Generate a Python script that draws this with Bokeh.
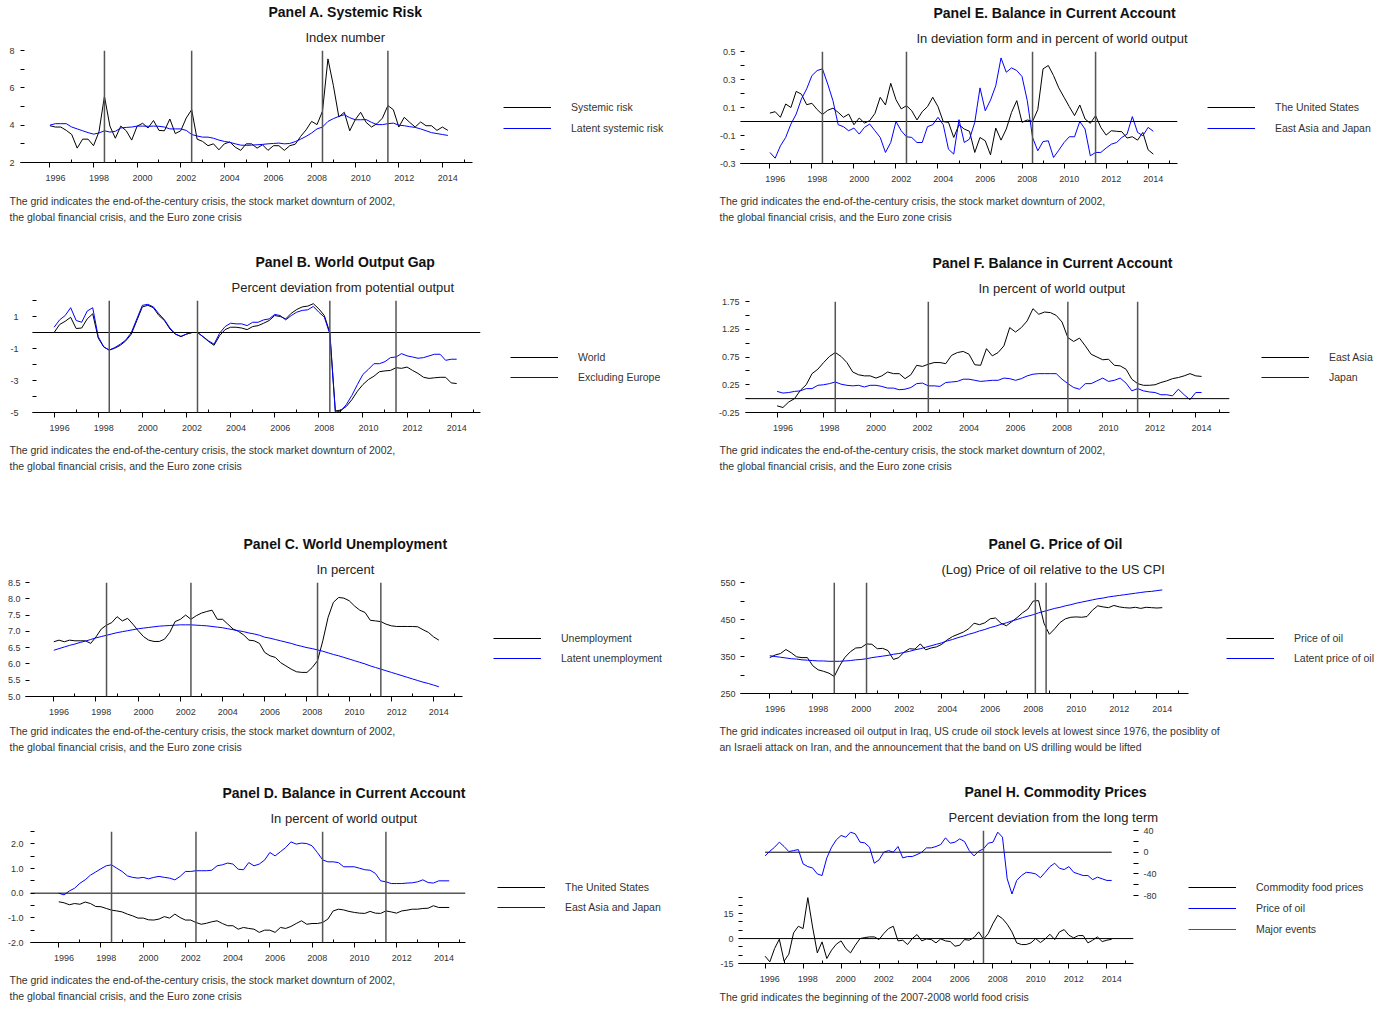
from bokeh.embed import file_html
from bokeh.layouts import column, row
from bokeh.models import (FixedTicker, Legend, LegendItem, LinearAxis,
                          PrintfTickFormatter, Range1d, Span, Title)
from bokeh.plotting import figure
from bokeh.resources import INLINE

FONT = "Liberation Sans"
TEXT = "#333333"
BLUE = "#0000ff"
EVENT = "#555555"

# ---------------- data ----------------
DATES = [y + q / 4 for y in range(1996, 2015) for q in range(4)]
EVEN_YEARS = list(range(1996, 2015, 2))
ODD_YEARS = list(range(1997, 2016, 2))
CRISES = [1998.5, 2002.5, 2008.5, 2011.5]
OIL_EVENTS = [1999.0, 2000.5, 2008.35, 2008.85]
FOOD_EVENTS = [2007.5]

CAPTION_CRISES = ["The grid indicates the end-of-the-century crisis, the stock market downturn of 2002,",
                  "the global financial crisis, and the Euro zone crisis"]
CAPTION_OIL = ["The grid indicates increased oil output in Iraq, US crude oil stock levels at lowest since 1976, the posiblity of",
               "an Israeli attack on Iran, and the announcement that the band on US drilling would be lifted"]
CAPTION_FOOD = ["The grid indicates the beginning of the 2007-2008 world food crisis"]

A_RISK = [3.97, 3.9, 3.9, 3.72, 3.5, 2.77, 3.25, 3.25, 2.9, 3.65,
          5.55, 3.95, 3.3, 3.95, 3.7, 3.2, 3.95, 4.1, 3.85, 4.25,
          3.72, 3.7, 4.33, 3.55, 3.7, 4.38, 4.83, 3.25, 3.13, 2.9,
          3.0, 2.68, 3.0, 3.1, 2.82, 2.65, 3.0, 3.0, 2.77, 2.95,
          2.65, 2.9, 2.9, 2.65, 2.9, 2.98, 3.4, 3.75, 4.2, 4.03,
          4.75, 7.55, 6.12, 4.44, 4.69, 3.7, 4.29, 4.69, 4.15, 3.9,
          4.08, 4.38, 5.05, 4.83, 3.9, 4.42, 4.15, 3.9, 4.17, 3.97,
          3.97, 3.72, 3.9, 3.72]
A_LATENT = [4.0, 4.08, 4.08, 4.08, 3.9, 3.8, 3.7, 3.6, 3.52, 3.58,
            3.7, 3.63, 3.67, 3.85, 3.88, 3.9, 3.95, 3.95, 3.94, 3.95,
            3.94, 3.9, 3.8, 3.8, 3.8, 3.72, 3.5, 3.42, 3.36, 3.36,
            3.3, 3.2, 3.13, 3.08, 3.0, 2.93, 2.92, 2.93, 2.95, 2.97,
            3.0, 3.02, 3.04, 3.0, 3.02, 3.12, 3.25, 3.4, 3.58, 3.8,
            3.9, 4.2, 4.35, 4.47, 4.56, 4.4, 4.29, 4.29, 4.3, 4.15,
            4.03, 4.03, 4.08, 4.11, 4.0, 3.97, 3.92, 3.88, 3.8, 3.7,
            3.6, 3.55, 3.5, 3.45]

B_WORLD = [0.0, 0.5, 0.7, 0.95, 0.25, 0.28, 0.85, 1.17, -0.35, -0.9,
           -1.1, -0.98, -0.8, -0.52, -0.1, 0.75, 1.6, 1.7, 1.55, 1.06,
           0.75, 0.22, -0.1, -0.26, -0.1, 0.0, 0.0, -0.26, -0.56, -0.8,
           -0.2, 0.18, 0.33, 0.33, 0.28, 0.18, 0.37, 0.43, 0.58, 0.75,
           1.06, 1.0, 0.85, 1.2, 1.44, 1.6, 1.65, 1.8, 1.48, 1.06,
           0.0, -4.9, -4.85, -4.62, -4.2, -3.67, -3.25, -2.94, -2.73, -2.45,
           -2.4, -2.37, -2.2, -2.24, -2.16, -2.37, -2.56, -2.8, -2.87, -2.83,
           -2.8, -2.8, -3.15, -3.19]
B_EXEU = [0.33, 0.79, 1.06, 1.55, 0.75, 0.64, 1.34, 1.55, -0.26, -0.9,
          -1.1, -0.94, -0.73, -0.47, 0.0, 0.85, 1.7, 1.76, 1.6, 1.17,
          0.8, 0.28, -0.1, -0.24, -0.1, 0.0, 0.0, -0.26, -0.52, -0.73,
          -0.05, 0.37, 0.58, 0.54, 0.54, 0.43, 0.64, 0.64, 0.79, 0.85,
          1.13, 1.06, 0.79, 1.06, 1.27, 1.38, 1.42, 1.63, 1.27, 0.96,
          -0.1, -4.98, -4.9, -4.5, -3.93, -3.25, -2.62, -2.3, -1.95, -1.95,
          -1.82, -1.57, -1.53, -1.32, -1.46, -1.53, -1.61, -1.57, -1.46, -1.36,
          -1.36, -1.74, -1.67, -1.67]

C_UNEMP = [6.68, 6.73, 6.68, 6.73, 6.71, 6.71, 6.71, 6.63, 6.83, 7.07,
           7.19, 7.27, 7.45, 7.32, 7.4, 7.22, 7.02, 6.84, 6.73, 6.69,
           6.69, 6.76, 6.97, 7.3, 7.37, 7.5, 7.37, 7.48, 7.56, 7.61,
           7.65, 7.37, 7.37, 7.22, 7.07, 7.0, 6.89, 6.73, 6.71, 6.63,
           6.35, 6.25, 6.2, 6.04, 5.94, 5.84, 5.76, 5.74, 5.74, 5.89,
           6.1, 6.71, 7.43, 7.89, 8.04, 8.02, 7.94, 7.78, 7.65, 7.58,
           7.34, 7.32, 7.3, 7.22, 7.17, 7.15, 7.15, 7.15, 7.15, 7.14,
           7.05, 6.97, 6.83, 6.73]
C_LATENT = [6.42, 6.47, 6.52, 6.57, 6.61, 6.66, 6.70, 6.75,
            6.80, 6.84, 6.88, 6.92, 6.96, 6.99, 7.02, 7.05,
            7.08, 7.10, 7.12, 7.14, 7.16, 7.17, 7.18, 7.19,
            7.20, 7.20, 7.20, 7.19, 7.18, 7.17, 7.15, 7.13,
            7.11, 7.08, 7.05, 7.02, 6.99, 6.95, 6.92, 6.88,
            6.82, 6.79, 6.75, 6.71, 6.67, 6.63, 6.58, 6.54,
            6.50, 6.47, 6.43, 6.39, 6.34, 6.29, 6.25, 6.20,
            6.15, 6.10, 6.05, 6.00, 5.94, 5.89, 5.84, 5.79,
            5.74, 5.69, 5.64, 5.59, 5.54, 5.49, 5.44, 5.40,
            5.35, 5.30]

D_US = [-0.35, -0.39, -0.47, -0.42, -0.45, -0.36, -0.42, -0.54, -0.55, -0.62,
        -0.69, -0.72, -0.76, -0.85, -0.92, -1.01, -1.01, -1.08, -1.09, -1.05,
        -0.95, -1.01, -0.85, -0.99, -1.09, -1.09, -1.19, -1.26, -1.22, -1.16,
        -1.12, -1.23, -1.32, -1.32, -1.46, -1.39, -1.43, -1.46, -1.59, -1.5,
        -1.5, -1.59, -1.39, -1.43, -1.35, -1.23, -1.12, -1.26, -1.23, -1.23,
        -1.19, -1.05, -0.72, -0.65, -0.68, -0.74, -0.78, -0.81, -0.82, -0.74,
        -0.81, -0.82, -0.72, -0.76, -0.81, -0.72, -0.69, -0.65, -0.65, -0.62,
        -0.61, -0.51, -0.58, -0.58, -0.58]
D_ASIA = [0.0, -0.07, 0.09, 0.2, 0.4, 0.54, 0.73, 0.86, 0.99, 1.11,
          1.15, 1.01, 0.88, 0.7, 0.64, 0.61, 0.64, 0.58, 0.64, 0.68,
          0.64, 0.61, 0.54, 0.68, 0.88, 0.88, 0.91, 0.91, 0.91, 0.93,
          1.11, 1.15, 1.22, 1.18, 0.97, 0.95, 1.24, 1.11, 1.18, 1.34,
          1.65, 1.51, 1.68, 1.85, 2.08, 1.99, 2.03, 2.01, 1.92, 1.65,
          1.35, 1.27, 1.27, 1.24, 1.07, 1.07, 1.07, 1.01, 0.95, 0.93,
          0.8, 0.5, 0.46, 0.39, 0.39, 0.39, 0.41, 0.42, 0.46, 0.54,
          0.43, 0.41, 0.5, 0.5, 0.5]

E_US = [0.06, 0.07, 0.03, 0.125, 0.1, 0.215, 0.195, 0.12, 0.13, 0.085,
        0.05, 0.08, 0.095, 0.065, 0.03, 0.053, -0.023, 0.025, -0.011, 0.006,
        0.058, 0.173, 0.118, 0.273, 0.156, 0.09, 0.113, 0.077, 0.011, 0.07,
        0.106, 0.173, 0.106, -0.001, -0.006, -0.114, -0.023, -0.054, -0.07, -0.221,
        -0.114, -0.138, -0.238, -0.047, -0.133, -0.054, 0.065, 0.149, -0.006, 0.011,
        0.0, 0.085, 0.376, 0.4, 0.328, 0.24, 0.173, 0.106, 0.042, 0.118,
        0.018, -0.013, 0.042, -0.042, -0.097, -0.066, -0.07, -0.073, -0.118, -0.109,
        -0.133, -0.078, -0.202, -0.233]
E_ASIA = [-0.221, -0.262, -0.174, -0.114, -0.018, 0.053, 0.161, 0.233, 0.328, 0.364,
          0.376, 0.268, 0.149, -0.023, -0.037, -0.066, -0.047, -0.09, -0.042, -0.018,
          -0.066, -0.114, -0.221, -0.15, 0.0, -0.066, -0.109, -0.114, -0.15, -0.15,
          -0.037, -0.023, 0.03, -0.023, -0.198, -0.233, 0.013, -0.15, -0.126, -0.006,
          0.24, 0.077, 0.153, 0.256, 0.454, 0.352, 0.383, 0.364, 0.321, 0.149,
          -0.114, -0.209, -0.143, -0.138, -0.257, -0.205, -0.15, -0.109, -0.109, 0.0,
          -0.054, -0.245, -0.221, -0.221, -0.19, -0.162, -0.15, -0.114, -0.09, 0.035,
          -0.078, -0.102, -0.042, -0.07]

F_EASIA = [-0.13, -0.16, -0.06, 0.0, 0.15, 0.25, 0.45, 0.53, 0.65, 0.76,
           0.83, 0.76, 0.65, 0.48, 0.43, 0.41, 0.41, 0.37, 0.41, 0.48,
           0.45, 0.45, 0.36, 0.43, 0.6, 0.58, 0.62, 0.65, 0.65, 0.63,
           0.78, 0.83, 0.85, 0.8, 0.61, 0.6, 0.9, 0.77, 0.83, 0.95,
           1.28, 1.2, 1.28, 1.4, 1.62, 1.52, 1.56, 1.55, 1.5, 1.38,
           1.1, 1.03, 1.09, 0.95, 0.8, 0.75, 0.7, 0.71, 0.6, 0.59,
           0.53, 0.35, 0.27, 0.24, 0.24, 0.25, 0.29, 0.32, 0.36, 0.38,
           0.41, 0.45, 0.41, 0.4]
F_JAPAN = [0.13, 0.1, 0.11, 0.13, 0.14, 0.18, 0.18, 0.24, 0.25, 0.27,
           0.3, 0.26, 0.24, 0.23, 0.24, 0.21, 0.24, 0.24, 0.22, 0.19,
           0.19, 0.16, 0.17, 0.2, 0.27, 0.28, 0.23, 0.23, 0.22, 0.29,
           0.3, 0.31, 0.35, 0.35, 0.33, 0.31, 0.32, 0.33, 0.33, 0.37,
           0.36, 0.33, 0.36, 0.41, 0.44, 0.45, 0.45, 0.45, 0.45, 0.35,
           0.27, 0.2, 0.17, 0.27, 0.27, 0.32, 0.37, 0.31, 0.33, 0.37,
           0.28, 0.14, 0.18, 0.14, 0.12, 0.11, 0.07, 0.07, 0.05, 0.17,
           0.07, -0.02, 0.11, 0.11]

G_OIL = [347, 354, 358, 369, 360, 349, 347, 347, 325, 314,
         310, 305, 296, 325, 348, 363, 373, 374, 384, 383,
         371, 372, 366, 342, 347, 362, 371, 370, 384, 368,
         373, 376, 383, 395, 404, 410, 416, 425, 440, 436,
         441, 452, 454, 440, 433, 444, 455, 468, 478, 500,
         501, 440, 410, 425, 442, 452, 456, 457, 456, 458,
         475, 487, 484, 482, 488, 484, 482, 481, 483, 480,
         483, 482, 481, 482]
G_LATENT = [352, 350, 348, 346, 344, 343, 341, 340, 339, 338, 338, 337,
            337, 337, 338, 339, 341, 342, 344, 347, 349, 351, 353, 356,
            358, 361, 364, 368, 371, 375, 379, 383, 387, 392, 396, 401,
            405, 410, 414, 419, 423, 428, 432, 437, 441, 446, 450, 455,
            459, 463, 468, 472, 476, 480, 483, 487, 490, 494, 497, 500,
            503, 506, 508, 511, 513, 515, 517, 519, 521, 523, 525, 526,
            528, 530]

H_FOOD = [-10.6, -14, -6, -0.4, -13.6, -9.4, 3.4, 7.4, 6, 24.6,
          7, -8.6, -2, -12, -7, -3.4, -1.4, -6, -8.6, -4,
          0, 0.6, 1, 1, -0.6, 3, 6, 7.4, -1.4, -1,
          -3.6, 0, 2.4, -1.4, -0.2, -0.6, -2.6, -0.2, -1.4, -1.8,
          -4.6, -4, -0.6, -1, 0.6, 4, -0.4, 3, 9, 14,
          12, 8.6, 4, -2.6, -3.6, -3.6, -2.6, 0, -2.4, -0.2,
          2.6, -0.6, 4, 5.4, 2, 0.4, 1.8, 1.8, -2.6, -1,
          1, -1.8, -1, -0.4]
H_OILDEV = [-6.8, 1.8, 9.2, 18.5, 10.5, 1.2, 3, 4.9, -21.5, -26.5,
            -29, -40, -43, -10.5, 9.2, 22.8, 30.8, 27.7, 36.9, 33.8,
            18.5, 17.2, 9.2, -20.3, -14.2, 0, 3, 0, 10.5, -10.5,
            -8, -8, -4.3, 0, 8, 8, 10.5, 14.2, 26.5, 16.6,
            18.5, 24.6, 19.7, 3, -6.8, 1.8, 6.2, 16.6, 18.5, 36.9,
            27.7, -49, -77, -52, -43, -37, -38, -40, -47, -37,
            -26.5, -20.3, -29.5, -32, -26.5, -37, -40, -43, -43, -50.5,
            -46, -49, -52, -52]

EPS = 1e-9
AXES_H = 22.0        # height of the two x axes below the frame
CAP_HALF = 6.0       # half height of a caption line
CAP_PITCH = 16.0
TICK_FS = "9px"


def make_panel(cfg):
    ox, oy = cfg["origin"]
    W, H = cfg["size"]
    Wp = cfg["plot_w"]
    fl, ft, fr, fb = cfg["frame"]
    L, T, R, B = round(fl - ox), round(ft - oy), round(fr - ox), round(fb - oy)
    yr = cfg["yr"]
    p = figure(width=Wp, height=H, x_range=Range1d(*cfg["xr"]),
               y_range=Range1d(yr[0] - EPS, yr[1] + EPS),
               x_axis_type=None, y_axis_type=None,
               output_backend="svg", toolbar_location=None,
               min_border_left=L, min_border_right=Wp - R,
               min_border_top=T, min_border_bottom=H - B)
    p.outline_line_color = None
    p.background_fill_color = "white"
    p.border_fill_color = "white"

    # titles (subtitle nearest the frame)
    p.add_layout(Title(text=cfg["subtitle"], align="left", offset=cfg["sub_left"] - fl,
                       vertical_align="bottom", standoff=12, text_font=FONT,
                       text_font_size="13px", text_font_style="normal",
                       text_color="#222222"), "above")
    p.add_layout(Title(text=cfg["title"], align="left", offset=cfg["title_left"] - fl,
                       vertical_align="bottom", standoff=3, text_font=FONT,
                       text_font_size="14px", text_font_style="bold",
                       text_color="#111111"), "above")

    # x axes: ticks nearest the frame, then year labels
    ax1 = LinearAxis(ticker=FixedTicker(ticks=EVEN_YEARS, minor_ticks=ODD_YEARS),
                     major_label_overrides={y: "" for y in EVEN_YEARS},
                     major_label_text_font_size="1px", major_label_standoff=0,
                     major_tick_in=0, major_tick_out=5, minor_tick_in=3, minor_tick_out=0,
                     axis_line_color="black", major_tick_line_color="black",
                     minor_tick_line_color="black")
    p.add_layout(ax1, "below")
    ax2 = LinearAxis(ticker=FixedTicker(ticks=[y + 0.25 for y in EVEN_YEARS], minor_ticks=[]),
                     formatter=PrintfTickFormatter(format="%d"),
                     axis_line_color=None, major_tick_line_color=None,
                     minor_tick_line_color=None, major_tick_in=0, major_tick_out=0,
                     major_label_standoff=7, major_label_text_font=FONT,
                     major_label_text_font_size=TICK_FS, major_label_text_color=TEXT)
    p.add_layout(ax2, "below")

    # captions: first line pushed down by its standoff, second line pulled back
    s1 = max(2 * (cfg["cap_y"][0] - fb - CAP_HALF - AXES_H), 0)
    s2 = 2 * (CAP_PITCH - 14.0) - s1
    for k, line in enumerate(cfg["caption"]):
        p.add_layout(Title(text=line, align="left", offset=cfg["cap_x"] - fl,
                           vertical_align="top", standoff=s1 if k == 0 else s2,
                           text_font=FONT, text_font_size="10.5px",
                           text_font_style="normal", text_color=TEXT), "below")

    yax = LinearAxis(ticker=FixedTicker(ticks=cfg["ymajor"], minor_ticks=cfg["yminor"]),
                     formatter=PrintfTickFormatter(format=cfg["yfmt"]),
                     axis_line_color=None, major_tick_in=4, major_tick_out=0,
                     minor_tick_in=4, minor_tick_out=0,
                     major_tick_line_color="black", minor_tick_line_color="black",
                     major_label_standoff=cfg["ystand"], major_label_text_font=FONT,
                     major_label_text_font_size=TICK_FS, major_label_text_color=TEXT)
    p.add_layout(yax, "left")

    if cfg.get("zero", False):
        p.add_layout(Span(location=0, dimension="width", line_color="black", line_width=1))
    return p


def legend_fig(cfg, entries):
    """Separate figure holding the legend keys; its frame is aligned with the plot frame."""
    ox, oy = cfg["origin"]
    W, H = cfg["size"]
    Wp = cfg["plot_w"]
    fb = cfg["frame"][3]
    # ranges far away from every series, so only the legend keys are visible
    lf = figure(width=W - Wp, height=H, x_range=Range1d(-5000, -4999),
                y_range=Range1d(-5000, -4999),
                x_axis_type=None, y_axis_type=None, output_backend="svg",
                toolbar_location=None, min_border=0)
    lf.outline_line_color = None
    lf.background_fill_color = "white"
    lf.border_fill_color = "white"
    gh = 16
    vx = cfg["legend_x"] - (ox + Wp)
    for (xs, ys, color, lab), gy in zip(entries, cfg["legend_y"]):
        r = lf.line(xs, ys, line_color=color, line_width=1)
        # one legend per entry, so each key keeps its own line style
        leg = Legend(items=[LegendItem(label=lab, renderers=[r])],
                     location=(vx, fb - (gy + gh / 2)),
                     orientation="vertical", padding=0, margin=0, spacing=0,
                     glyph_width=48, glyph_height=gh, label_height=gh, label_standoff=20,
                     border_line_color=None, background_fill_alpha=0,
                     label_text_font=FONT, label_text_font_size="10.5px",
                     label_text_color=TEXT)
        lf.add_layout(leg)
    return lf


def standard(cfg, series, events):
    p = make_panel(cfg)
    for e in events:
        p.add_layout(Span(location=e, dimension="height", line_color=EVENT, line_width=1.5))
    for vals, color, lab in series:
        p.line(DATES[:len(vals)], vals, line_color=color, line_width=1)
    lf = legend_fig(cfg, [(DATES[:len(v)], v, c, lab) for v, c, lab in series])
    return row(p, lf)


pA = standard(dict(origin=(0, 0), size=(700, 249), plot_w=495, frame=(20, 50, 472, 162),
                   xr=(1994.65, 2015.38), yr=(2, 8), ymajor=[2, 4, 6, 8], yminor=[3, 5, 7],
                   yfmt="%d", ystand=6, title="Panel A. Systemic Risk", title_left=268,
                   subtitle="Index number", sub_left=305,
                   caption=CAPTION_CRISES, cap_x=9, cap_y=(201, 217),
                   legend_x=503, legend_y=(107, 128)),
              [(A_RISK, "black", "Systemic risk"), (A_LATENT, BLUE, "Latent systemic risk")],
              CRISES)

pE = standard(dict(origin=(700, 0), size=(688, 249), plot_w=505, frame=(740, 51, 1177, 163),
                   xr=(1994.6, 2015.4), yr=(-0.3, 0.5), ymajor=[-0.3, -0.1, 0.1, 0.3, 0.5],
                   yminor=[-0.2, 0.0, 0.2, 0.4], yfmt="%.1f", ystand=5, zero=True,
                   title="Panel E. Balance in Current Account", title_left=933,
                   subtitle="In deviation form and in percent of world output", sub_left=916,
                   caption=CAPTION_CRISES, cap_x=719, cap_y=(201, 217),
                   legend_x=1207, legend_y=(107, 128)),
              [(E_US, "black", "The United States"), (E_ASIA, BLUE, "East Asia and Japan")],
              CRISES)

pB = standard(dict(origin=(0, 249), size=(700, 281), plot_w=505, frame=(32, 300, 480, 412),
                   xr=(1995.02, 2015.33), yr=(-5, 2), ymajor=[-5, -3, -1, 1], yminor=[-4, -2, 0, 2],
                   yfmt="%d", ystand=14, zero=True, title="Panel B. World Output Gap", title_left=255,
                   subtitle="Percent deviation from potential output", sub_left=231,
                   caption=CAPTION_CRISES, cap_x=9, cap_y=(450, 466),
                   legend_x=510, legend_y=(357, 377)),
              [(B_WORLD, "black", "World"), (B_EXEU, BLUE, "Excluding Europe")],
              CRISES)

pF = standard(dict(origin=(700, 249), size=(688, 281), plot_w=555, frame=(745, 301, 1229, 412),
                   xr=(1994.64, 2015.45), yr=(-0.25, 1.75), ymajor=[-0.25, 0.25, 0.75, 1.25, 1.75],
                   yminor=[0.0, 0.5, 1.0, 1.5], yfmt="%.2f", ystand=6, zero=True,
                   title="Panel F. Balance in Current Account", title_left=932,
                   subtitle="In percent of world output", sub_left=978,
                   caption=CAPTION_CRISES, cap_x=719, cap_y=(450, 466),
                   legend_x=1261, legend_y=(357, 377)),
              [(F_EASIA, "black", "East Asia"), (F_JAPAN, BLUE, "Japan")],
              CRISES)

pC = standard(dict(origin=(0, 530), size=(700, 249), plot_w=488, frame=(25, 582, 462, 696),
                   xr=(1994.66, 2015.37), yr=(5.0, 8.5),
                   ymajor=[5.0, 5.5, 6.0, 6.5, 7.0, 7.5, 8.0, 8.5], yminor=[],
                   yfmt="%.1f", ystand=5, title="Panel C. World Unemployment", title_left=243,
                   subtitle="In percent", sub_left=316,
                   caption=CAPTION_CRISES, cap_x=9, cap_y=(731, 747),
                   legend_x=493, legend_y=(638, 658)),
              [(C_UNEMP, "black", "Unemployment"), (C_LATENT, BLUE, "Latent unemployment")],
              CRISES)

pG = standard(dict(origin=(700, 530), size=(688, 249), plot_w=524, frame=(740, 582, 1188, 693),
                   xr=(1994.64, 2015.47), yr=(250, 550), ymajor=[250, 350, 450, 550],
                   yminor=[300, 400, 500], yfmt="%d", ystand=5,
                   title="Panel G. Price of Oil", title_left=988,
                   subtitle="(Log) Price of oil relative to the US CPI", sub_left=941,
                   caption=CAPTION_OIL, cap_x=719, cap_y=(731, 747),
                   legend_x=1226, legend_y=(638, 658)),
              [(G_OIL, "black", "Price of oil"), (G_LATENT, BLUE, "Latent price of oil")],
              OIL_EVENTS)

pD = standard(dict(origin=(0, 779), size=(700, 231), plot_w=492, frame=(30, 831, 465, 942),
                   xr=(1994.66, 2015.27), yr=(-2.0, 2.5), ymajor=[-2.0, -1.0, 0.0, 1.0, 2.0],
                   yminor=[-1.5, -0.5, 0.5, 1.5, 2.5], yfmt="%.1f", ystand=7, zero=True,
                   title="Panel D. Balance in Current Account", title_left=222,
                   subtitle="In percent of world output", sub_left=270,
                   caption=CAPTION_CRISES, cap_x=9, cap_y=(980, 996),
                   legend_x=497, legend_y=(887, 907)),
              [(D_US, "black", "The United States"), (D_ASIA, BLUE, "East Asia and Japan")],
              CRISES)

# Panel H: two stacked scales in one frame
cfgH = dict(origin=(700, 779), size=(688, 231), plot_w=483, frame=(738, 830, 1133, 963),
            xr=(1994.6, 2015.4), yr=(-15, 65), ymajor=[-15, 0, 15], yminor=[-10, -5, 5, 10, 20, 25],
            yfmt="%d", ystand=5, zero=True, title="Panel H. Commodity Prices", title_left=964,
            subtitle="Percent deviation from the long term", sub_left=948,
            caption=CAPTION_FOOD, cap_x=719, cap_y=(997,),
            legend_x=1188, legend_y=(887, 908, 929))
figH = make_panel(cfgH)
figH.extra_y_ranges = {"oil": Range1d(-205, 40 + EPS)}
oil_axis = LinearAxis(y_range_name="oil",
                      ticker=FixedTicker(ticks=[-80, -40, 0, 40], minor_ticks=[-60, -20, 20]),
                      formatter=PrintfTickFormatter(format="%d"), axis_line_color=None,
                      major_tick_in=0, major_tick_out=5, minor_tick_in=0, minor_tick_out=5,
                      major_tick_line_color="black", minor_tick_line_color="black",
                      major_label_standoff=5, major_label_text_font=FONT,
                      major_label_text_font_size=TICK_FS, major_label_text_color=TEXT)
figH.add_layout(oil_axis, "right")
nH = len(H_OILDEV)
figH.line([DATES[0], DATES[nH - 1]], [0, 0], y_range_name="oil", line_color="black", line_width=1)
figH.line(DATES[:len(H_FOOD)], H_FOOD, line_color="black", line_width=1)
figH.line(DATES[:nH], H_OILDEV, y_range_name="oil", line_color=BLUE, line_width=1)
for e in FOOD_EVENTS:
    figH.add_layout(Span(location=e, dimension="height", line_color=EVENT, line_width=1.5))
lH = legend_fig(cfgH, [(DATES[:len(H_FOOD)], H_FOOD, "black", "Commodity food prices"),
                       (DATES[:nH], H_OILDEV, BLUE, "Price of oil"),
                       ([FOOD_EVENTS[0], FOOD_EVENTS[0]], [-15, 65], EVENT, "Major events")])
pH = row(figH, lH)

layout = column(row(pA, pE), row(pB, pF), row(pC, pG), row(pD, pH))
open("out.html", "w").write(file_html(layout, INLINE, title="Panels"))
